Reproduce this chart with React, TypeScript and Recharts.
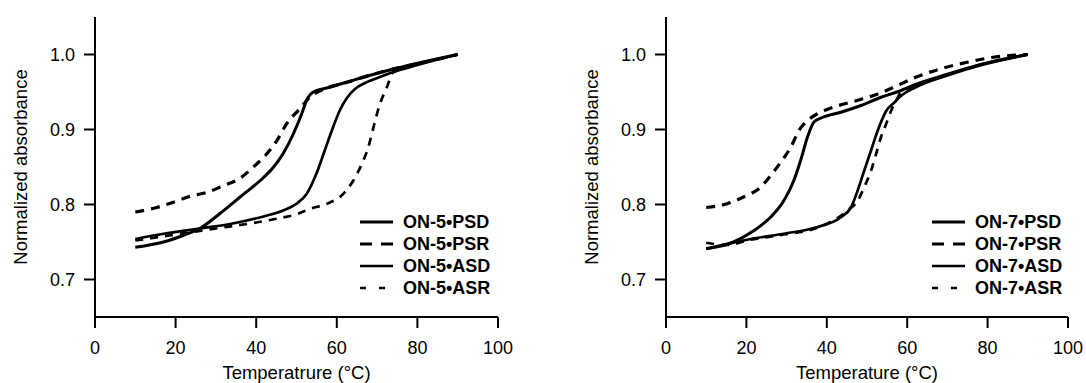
import { LineChart, Line, XAxis, YAxis, Legend, Label } from 'recharts'

type Pt = [number, number]

const xTicks = [0, 20, 40, 60, 80, 100]
const yTicks = [0.7, 0.8, 0.9, 1.0]

// ON-5 melting / renaturation curves (temperature °C, normalized absorbance)
const on5PSD: Pt[] = [
  [10, 0.743], [17, 0.75], [22, 0.759], [26, 0.768], [31, 0.788], [36, 0.81],
  [41, 0.832], [44, 0.848], [46.7, 0.868], [49.2, 0.894], [51.3, 0.921],
  [52.5, 0.939], [54.2, 0.95], [58, 0.956], [63, 0.964], [67.4, 0.971],
  [73.6, 0.98], [79.8, 0.988], [90, 1.0],
]
const on5PSR: Pt[] = [
  [10, 0.79], [15.3, 0.796], [19.4, 0.803], [23.6, 0.811], [27.7, 0.816],
  [31.8, 0.825], [36, 0.835], [39.3, 0.85], [42.2, 0.865], [45.1, 0.885],
  [47.6, 0.908], [50.9, 0.928], [53.3, 0.943], [56, 0.952], [62, 0.962],
  [68, 0.972], [75, 0.982], [82, 0.99], [90, 1.0],
]
const on5ASD: Pt[] = [
  [10, 0.754], [17, 0.761], [26, 0.768], [33.5, 0.774], [41.8, 0.784],
  [46.7, 0.792], [50, 0.801], [52.5, 0.814], [55, 0.842], [57, 0.872],
  [59, 0.902], [60.7, 0.925], [62.5, 0.942], [64.5, 0.954], [67, 0.962],
  [70.7, 0.97], [73.6, 0.976], [80, 0.986], [90, 1.0],
]
const on5ASR: Pt[] = [
  [10, 0.752], [20, 0.76], [30, 0.768], [40, 0.776], [45, 0.781], [50, 0.787],
  [53.3, 0.794], [58, 0.802], [61.2, 0.812], [64.1, 0.832], [66.2, 0.854],
  [67.8, 0.876], [69.1, 0.903], [70.7, 0.934], [72.4, 0.956], [74, 0.976],
  [80, 0.987], [90, 1.0],
]

// ON-7
const on7PSD: Pt[] = [
  [10, 0.741], [16.8, 0.75], [21.8, 0.765], [26, 0.783], [29.3, 0.805],
  [31.8, 0.832], [33.5, 0.859], [35.2, 0.89], [36.8, 0.91], [38.9, 0.916],
  [43.5, 0.923], [48.5, 0.932], [53.5, 0.943], [58.5, 0.952], [62, 0.96],
  [70.2, 0.974], [78.5, 0.987], [90, 1.0],
]
const on7PSR: Pt[] = [
  [10, 0.796], [15.2, 0.801], [19.3, 0.81], [23.5, 0.823], [26.4, 0.841],
  [28.9, 0.859], [31, 0.876], [33.1, 0.899], [35.2, 0.912], [37.7, 0.921],
  [41.8, 0.93], [47.7, 0.939], [53.5, 0.949], [57.7, 0.959], [61.8, 0.969],
  [67.7, 0.98], [75.2, 0.99], [81, 0.996], [90, 1.0],
]
const on7ASD: Pt[] = [
  [10, 0.741], [15, 0.747], [21, 0.754], [29.3, 0.761], [37.7, 0.77],
  [43.5, 0.783], [46, 0.796], [47.7, 0.819], [49.3, 0.845], [51, 0.872],
  [52.7, 0.899], [54.8, 0.925], [56.8, 0.936], [58.5, 0.945], [62, 0.956],
  [70, 0.972], [78.5, 0.986], [90, 1.0],
]
const on7ASR: Pt[] = [
  [10, 0.749], [15, 0.746], [21, 0.753], [29.3, 0.76], [37.7, 0.769],
  [43.5, 0.785], [45.2, 0.792], [47.7, 0.805], [49.3, 0.823], [51, 0.845],
  [52.3, 0.868], [53.5, 0.89], [54.8, 0.908], [56, 0.925], [57.3, 0.939],
  [58.5, 0.95], [62, 0.958], [70, 0.973], [78.5, 0.987], [90, 1.0],
]

const FONT = '"Liberation Sans", Arial, Helvetica, sans-serif'
const order = ['psd', 'psr', 'asd', 'asr']

const plotStyles: Record<string, { width: number; dash?: string }> = {
  psd: { width: 3 },
  psr: { width: 3.2, dash: '9 7' },
  asd: { width: 2.7 },
  asr: { width: 2.7, dash: '8 7' },
}
const legendStyles: Record<string, { width: number; dash?: string }> = {
  psd: { width: 2.8 },
  psr: { width: 3.2, dash: '12 9' },
  asd: { width: 2.4 },
  asr: { width: 2.4, dash: '6 13' },
}

interface Series {
  key: string
  name: string
  points: Pt[]
}

const toRows = (key: string, pts: Pt[]) => pts.map(([t, a]) => ({ t, [key]: a }))

const renderLegend = (props: any) => {
  const payload: any[] = props.payload || []
  const items = order
    .map((k) => payload.find((p) => p.dataKey === k))
    .filter(Boolean)
  return (
    <div style={{ fontFamily: FONT }}>
      {items.map((entry: any) => {
        const s = legendStyles[entry.dataKey]
        return (
          <div key={entry.dataKey} style={{ display: 'flex', alignItems: 'center', height: 22 }}>
            <svg width={33} height={6}>
              <line x1={0} y1={3} x2={33} y2={3} stroke="#000" strokeWidth={s.width} strokeDasharray={s.dash} />
            </svg>
            <span style={{ marginLeft: 10, fontSize: 18, fontWeight: 700, lineHeight: '22px', color: '#000' }}>
              {entry.value}
            </span>
          </div>
        )
      })}
    </div>
  )
}

const tickStyle = { fill: '#000', fontSize: 18, fontFamily: FONT }
const axisStroke = { stroke: '#000', strokeWidth: 2 }

function Panel({
  left,
  yAxisWidth,
  rightMargin,
  xTitle,
  legendLeft,
  series,
}: {
  left: number
  yAxisWidth: number
  rightMargin: number
  xTitle: string
  legendLeft: number
  series: Series[]
}) {
  return (
    <div style={{ position: 'absolute', left, top: 0 }}>
      <LineChart width={543} height={383} margin={{ top: 17, right: rightMargin, bottom: 0, left: 0 }}>
        <XAxis
          type="number"
          dataKey="t"
          domain={[0, 100]}
          ticks={xTicks}
          height={66}
          tickSize={11}
          tickMargin={13}
          tick={tickStyle}
          axisLine={axisStroke}
          tickLine={axisStroke}
          allowDataOverflow
        >
          <Label
            content={(p: any) => {
              const { x, y, width } = p.viewBox
              return (
                <text x={x + width / 2} y={y + 61.5} textAnchor="middle" fontSize={18.5} fontFamily={FONT} fill="#000">
                  {xTitle}
                </text>
              )
            }}
          />
        </XAxis>
        <YAxis
          type="number"
          domain={[0.65, 1.05]}
          ticks={yTicks}
          width={yAxisWidth}
          tickSize={11}
          tickMargin={9}
          tick={tickStyle}
          tickFormatter={(v: number) => v.toFixed(1)}
          axisLine={axisStroke}
          tickLine={axisStroke}
          allowDataOverflow
        >
          <Label
            content={(p: any) => {
              const { x, y, width, height } = p.viewBox
              const cx = x + width - 74.5
              const cy = y + height / 2
              return (
                <text
                  x={cx}
                  y={cy}
                  transform={`rotate(-90 ${cx} ${cy})`}
                  textAnchor="middle"
                  dominantBaseline="central"
                  fontSize={18.5}
                  fontFamily={FONT}
                  fill="#000"
                >
                  Normalized absorbance
                </text>
              )
            }}
          />
        </YAxis>
        <Legend
          layout="vertical"
          align="center"
          verticalAlign="middle"
          content={renderLegend}
          wrapperStyle={{ left: legendLeft, top: 211, width: 'auto', height: 'auto' }}
        />
        {series.map((s) => (
          <Line
            key={s.key}
            data={toRows(s.key, s.points)}
            dataKey={s.key}
            name={s.name}
            type="monotone"
            stroke="#000"
            strokeWidth={plotStyles[s.key].width}
            strokeDasharray={plotStyles[s.key].dash}
            dot={false}
            activeDot={false}
            isAnimationActive={false}
          />
        ))}
      </LineChart>
    </div>
  )
}

export default function App() {
  const on5: Series[] = [
    { key: 'psd', name: 'ON-5•PSD', points: on5PSD },
    { key: 'psr', name: 'ON-5•PSR', points: on5PSR },
    { key: 'asd', name: 'ON-5•ASD', points: on5ASD },
    { key: 'asr', name: 'ON-5•ASR', points: on5ASR },
  ]
  const on7: Series[] = [
    { key: 'psd', name: 'ON-7•PSD', points: on7PSD },
    { key: 'psr', name: 'ON-7•PSR', points: on7PSR },
    { key: 'asd', name: 'ON-7•ASD', points: on7ASD },
    { key: 'asr', name: 'ON-7•ASR', points: on7ASR },
  ]
  return (
    <div style={{ position: 'absolute', left: 0, top: 0, width: 1086, height: 383, background: '#fff' }}>
      <Panel left={0} yAxisWidth={95} rightMargin={45} xTitle="Temperatrure (°C)" legendLeft={360} series={on5} />
      <Panel left={543} yAxisWidth={123} rightMargin={18} xTitle="Temperature (°C)" legendLeft={389} series={on7} />
    </div>
  )
}
